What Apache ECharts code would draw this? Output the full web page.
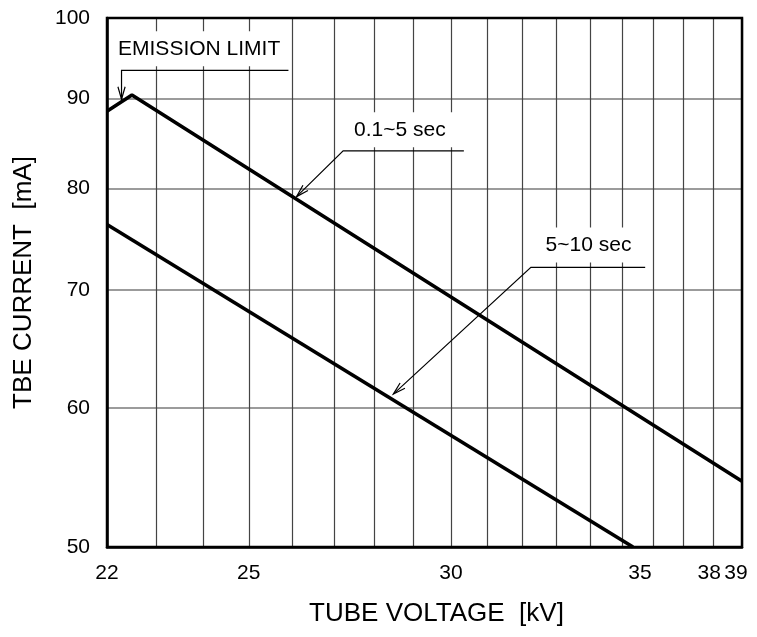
<!DOCTYPE html>
<html>
<head>
<meta charset="utf-8">
<script src="https://cdn.jsdelivr.net/npm/echarts@6/dist/echarts.min.js"></script>
<style>
html,body{margin:0;padding:0;background:#fff;}
#main{width:757px;height:637px;}
</style>
</head>
<body>
<div id="main"></div>
<script>
// ---- data ----
const kvTicks = [22,23,24,25,26,27,28,29,30,31,32,33,34,35,36,37,38,39];
const kvLabels = [22,25,30,35,38];
const kvLabelsEnd = [39];
const maTicks = [50,60,70,80,90,100];
const line1 = [[22,88.5],[22.5,90.4],[39,54.5]];   // emission limit + 0.1~5 sec
const line2 = [[22,76.3],[35.35,50]];               // 5~10 sec
const annoTexts = ['EMISSION LIMIT','0.1~5 sec','5~10 sec'];
const annoTextAt = [[22.22,96.05],[27.49,86.37],[32.67,74.28]];
const annoLeaders = [
  [[25.91,93.36],[22.29,93.36],[22.29,89.9]],
  [[30.35,84.02],[27.22,84.02],[26.10,79.13]],
  [[35.74,72.13],[32.24,72.13],[28.48,61.09]]
];

// ---- style ----
const FONT = "'Liberation Sans', Arial, sans-serif";
const labelShift = {35: 18, 38: -4, 39: -6};
const rich = {};
kvLabels.concat(kvLabelsEnd).forEach(v => {
  const s = labelShift[v] || 0;
  rich['k' + v] = {
    fontSize: 21, fontFamily: FONT, color: '#000',
    padding: s >= 0 ? [0, 0, 0, 2 * s] : [0, -2 * s, 0, 0]
  };
});
const kvFormatter = v => '{k' + Math.round(v) + '|' + Math.round(v) + '}';

const chart = echarts.init(document.getElementById('main'), null, {renderer: 'canvas'});
const option = {
  animation: false,
  backgroundColor: '#fff',
  textStyle: {fontFamily: FONT, color: '#000'},
  grid: {left: 107, right: 15, top: 18, bottom: 90, show: true,
         borderColor: '#000', borderWidth: 2.5, backgroundColor: 'transparent', z: 5},
  xAxis: [{
    type: 'log', logBase: 10, min: 22, max: 39, position: 'bottom',
    name: 'TUBE VOLTAGE  [kV]', nameLocation: 'middle', nameGap: 54,
    nameTextStyle: {fontSize: 26, fontFamily: FONT, color: '#000', padding: [0, 0, 0, 24]},
    axisLine: {show: true, lineStyle: {color: '#000', width: 2.5}},
    axisTick: {show: false, customValues: kvTicks},
    axisLabel: {customValues: kvLabels, margin: 16, fontSize: 21, color: '#000',
                hideOverlap: false, formatter: kvFormatter, rich: rich},
    splitLine: {show: true, lineStyle: {color: '#444', width: 1.2}},
    minorTick: {show: false}, minorSplitLine: {show: false}
  }, {
    type: 'log', logBase: 10, min: 22, max: 39, position: 'bottom', offset: 0,
    axisLine: {show: false},
    axisTick: {show: false, customValues: kvLabelsEnd},
    axisLabel: {customValues: kvLabelsEnd, margin: 16, fontSize: 21, color: '#000',
                hideOverlap: false, formatter: kvFormatter, rich: rich},
    splitLine: {show: false}
  }],
  yAxis: {
    type: 'log', logBase: 10, min: 50, max: 100,
    name: 'TBE CURRENT  [mA]', nameLocation: 'middle', nameGap: 70, nameRotate: 90,
    nameTextStyle: {fontSize: 26, fontFamily: FONT, color: '#000'},
    axisLine: {show: true, lineStyle: {color: '#000', width: 2.5}},
    axisTick: {show: false, customValues: maTicks},
    axisLabel: {customValues: maTicks, margin: 17, fontSize: 21, color: '#000',
                hideOverlap: false, showMinLabel: true, showMaxLabel: true,
                formatter: v => String(Math.round(v))},
    splitLine: {show: true, lineStyle: {color: '#7a7a7a', width: 1.6}}
  },
  series: [
    {type: 'line', xAxisIndex: 0, data: line1, showSymbol: false, silent: true, z: 10,
     lineStyle: {color: '#000', width: 3.6}},
    {type: 'line', xAxisIndex: 0, data: line2, showSymbol: false, silent: true, z: 10,
     lineStyle: {color: '#000', width: 3.6}}
  ]
};
chart.setOption(option);

// ---- annotations (positioned through the chart's own scales) ----
function px(p) { return chart.convertToPixel({xAxisIndex: 0, yAxisIndex: 0}, p); }
const PADX = 8;
const graphics = [];
annoTexts.forEach((t, i) => {
  const p = px(annoTextAt[i]);
  graphics.push({
    type: 'text', z: 50, silent: true,
    style: {text: t, x: p[0] - PADX, y: p[1], align: 'left', verticalAlign: 'middle',
            font: '21px ' + FONT, fill: '#000',
            backgroundColor: '#fff', padding: [7, PADX, 7, PADX]}
  });
});
annoLeaders.forEach(pts => {
  const pp = pts.map(px);
  graphics.push({type: 'polyline', z: 51, silent: true,
    shape: {points: pp}, style: {stroke: '#000', lineWidth: 1.2, fill: null}});
  const tip = pp[pp.length - 1], prev = pp[pp.length - 2];
  const ang = Math.atan2(prev[1] - tip[1], prev[0] - tip[0]);
  const L = 13, a = 0.28;
  const arm1 = [tip[0] + L * Math.cos(ang + a), tip[1] + L * Math.sin(ang + a)];
  const arm2 = [tip[0] + L * Math.cos(ang - a), tip[1] + L * Math.sin(ang - a)];
  graphics.push({type: 'polyline', z: 51, silent: true,
    shape: {points: [arm1, tip, arm2]}, style: {stroke: '#000', lineWidth: 1.2, fill: null}});
});
chart.setOption({graphic: graphics});
</script>
</body>
</html>
